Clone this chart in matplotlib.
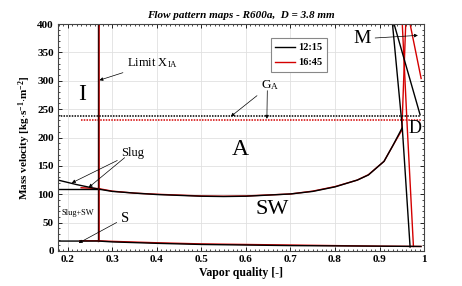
#!/usr/bin/env python3
# -*- coding: utf-8 -*-
"""
Flow pattern map for R600a, D = 3.8 mm (two acquisitions: 12:15 and 16:45)
"""

import matplotlib
matplotlib.use("Agg")
import matplotlib.pyplot as plt
from matplotlib.ticker import MultipleLocator

# ---- data ----
x_ia = 0.269                       # limit X_IA
x_left = 0.178
x_right = 0.993

# stratified-wavy / slug boundary
strat_x_12 = [0.178, 0.22, 0.269, 0.3, 0.35, 0.4, 0.5, 0.55, 0.6, 0.7, 0.75, 0.8, 0.85, 0.875, 0.91, 0.93, 0.95]
strat_g_12 = [125, 117, 109, 105, 102, 99.5, 96.5, 96, 96.5, 100.5, 105, 113, 125, 134, 158, 186, 216]
strat_x_16 = [0.23, 0.269, 0.3, 0.35, 0.4, 0.5, 0.55, 0.6, 0.7, 0.75, 0.8, 0.85, 0.875, 0.91, 0.93, 0.95, 0.9587]
strat_g_16 = [111.5, 110, 105.5, 102, 100, 97, 96.5, 97, 100.5, 105.5, 113.5, 125, 134.5, 158, 186, 213, 400]
slug_sw_x = [0.178, 0.269]
slug_sw_g = [109, 109]

# stratified / S boundary
s_x_12 = [0.178, 0.269, 0.3, 0.4, 0.5, 0.6, 0.7, 0.8, 0.9, 0.993]
s_g_12 = [17.5, 17.5, 16, 13.5, 11.5, 10.5, 9.5, 9, 8.5, 8]
s_x_16 = [0.227, 0.269, 0.3, 0.4, 0.5, 0.6, 0.7, 0.8, 0.9, 0.993]
s_g_16 = [18, 18, 17, 14.5, 12.5, 11.5, 10.5, 9.5, 8.5, 8]

# intermittent / annular transition
ga_12 = 238
ga_16 = 230
ga_x_12 = [0.178, 0.993]
ga_x_16 = [0.23, 0.993]

# dryout and mist lines
dry_x_12 = [0.929, 0.951, 0.9685]
dry_g_12 = [400, 217, 7]
dry_x_16 = [0.951, 0.962, 0.976]
dry_g_16 = [400, 220, 8]
mist_x_12 = [0.9326, 0.991]
mist_g_12 = [400, 240]
mist_x_16 = [0.9685, 0.9933]
mist_g_16 = [400, 304]

labels = ["12:15", "16:45"]
RED = "#d40000"

plt.rcParams["font.family"] = ["Liberation Serif", "DejaVu Serif"]
plt.rcParams["mathtext.fontset"] = "custom"
plt.rcParams["mathtext.rm"] = "Liberation Serif"
plt.rcParams["mathtext.it"] = "Liberation Serif:italic"
plt.rcParams["mathtext.bf"] = "Liberation Serif:bold"

fig = plt.figure(figsize=(4.62, 2.86), dpi=100)
ax = fig.add_axes([0.1255, 0.1224, 0.7925, 0.7936])

# red (16:45) first, black (12:15) on top
ax.plot(strat_x_16, strat_g_16, color=RED, lw=1.0)
ax.plot(s_x_16, s_g_16, color=RED, lw=1.0)
ax.plot(ga_x_16, [ga_16, ga_16], color=RED, lw=1.1, ls=(0, (1.0, 0.8)))
ax.plot(dry_x_16, dry_g_16, color=RED, lw=1.0)
ax.plot(mist_x_16, mist_g_16, color=RED, lw=1.0)
ax.plot([x_ia + 0.0012, x_ia + 0.0012], [s_g_16[1], 400], color=RED, lw=0.6)

ax.plot(strat_x_12, strat_g_12, color="black", lw=1.0)
ax.plot(slug_sw_x, slug_sw_g, color="black", lw=1.0)
ax.plot(s_x_12, s_g_12, color="black", lw=1.0)
ax.plot(ga_x_12, [ga_12, ga_12], color="black", lw=1.1, ls=(0, (1.0, 0.8)))
ax.plot(dry_x_12, dry_g_12, color="black", lw=1.0)
ax.plot(mist_x_12, mist_g_12, color="black", lw=1.0)
ax.plot([x_ia - 0.0008, x_ia - 0.0008], [s_g_12[1], 400], color="#3a0505", lw=1.0)

# legend handles
h1, = ax.plot([], [], color="black", lw=1.0, label=labels[0])
h2, = ax.plot([], [], color=RED, lw=1.0, label=labels[1])
leg = ax.legend(handles=[h1, h2], loc="upper left", bbox_to_anchor=(0.567, 0.96),
                prop={"weight": "bold", "size": 7.5}, handlelength=1.9,
                fancybox=False, edgecolor="#888888", framealpha=1,
                borderpad=0.45, labelspacing=0.55, handletextpad=0.3)
leg.get_frame().set_linewidth(0.8)

# region labels
ax.text(0.2315, 275, "I", fontsize=17, ha="center", va="center")
ax.text(0.588, 178, "A", fontsize=17, ha="center", va="center")
ax.text(0.658, 74, "SW", fontsize=16, ha="center", va="center")
ax.text(0.2225, 67, "Slug+SW", fontsize=6, ha="center", va="center")

arrow = dict(arrowstyle="-|>", color="black", lw=0.5, mutation_scale=5, shrinkA=1, shrinkB=0)
ax.annotate(r"Limit X$_{\rm IA}$", xy=(0.271, 301), xytext=(0.333, 331),
            fontsize=9, ha="left", va="center", arrowprops=arrow)
ax.annotate(r"G$_{\rm A}$", xy=(0.566, ga_12 - 1), xytext=(0.654, 292),
            fontsize=9.5, ha="center", va="center", arrowprops=arrow)
ax.annotate("", xy=(0.647, ga_16 + 3), xytext=(0.648, 285), arrowprops=arrow)
ax.annotate("Slug", xy=(0.209, 120), xytext=(0.346, 173),
            fontsize=9, ha="center", va="center", arrowprops=arrow)
ax.annotate("", xy=(0.247, 112), xytext=(0.33, 166), arrowprops=arrow)
ax.annotate("S", xy=(0.2245, 14), xytext=(0.328, 58),
            fontsize=10.5, ha="center", va="center", arrowprops=arrow)
ax.annotate("M", xy=(0.986, 380), xytext=(0.861, 374),
            fontsize=14, ha="center", va="center", arrowprops=arrow)
ax.text(0.98, 215, "D", fontsize=13, ha="center", va="center")

ax.set_xlim(x_left, 1.0)
ax.set_ylim(0, 400)
ax.xaxis.set_major_locator(MultipleLocator(0.1))
ax.xaxis.set_minor_locator(MultipleLocator(0.01))
ax.yaxis.set_major_locator(MultipleLocator(50))
ax.yaxis.set_minor_locator(MultipleLocator(10))
ax.set_xticks([0.2, 0.3, 0.4, 0.5, 0.6, 0.7, 0.8, 0.9, 1.0])
ax.set_xticklabels(["0.2", "0.3", "0.4", "0.5", "0.6", "0.7", "0.8", "0.9", "1"])
ax.tick_params(which="both", direction="in", top=True, right=True)
ax.tick_params(which="major", length=3, width=0.6, labelsize=8, pad=3)
ax.tick_params(which="minor", length=1.5, width=0.5)
for lab in ax.get_xticklabels() + ax.get_yticklabels():
    lab.set_fontweight("bold")
ax.grid(True, which="major", color="#e0e0e0", lw=0.6)
ax.set_axisbelow(True)
for sp in ax.spines.values():
    sp.set_linewidth(0.8)
    sp.set_color("#444444")

ax.set_xlabel("Vapor quality [-]", fontsize=8.5, fontweight="bold", labelpad=2)
ax.set_ylabel(r"Mass velocity [kg$\cdot$s$^{\mathbf{-1}}$$\cdot$m$^{\mathbf{-2}}$]",
              fontsize=8, fontweight="bold", labelpad=3)
ax.set_title("Flow pattern maps - R600a,  D = 3.8 mm", fontsize=8,
             fontweight="bold", fontstyle="italic", pad=4)

fig.savefig("out.png", dpi=100)
